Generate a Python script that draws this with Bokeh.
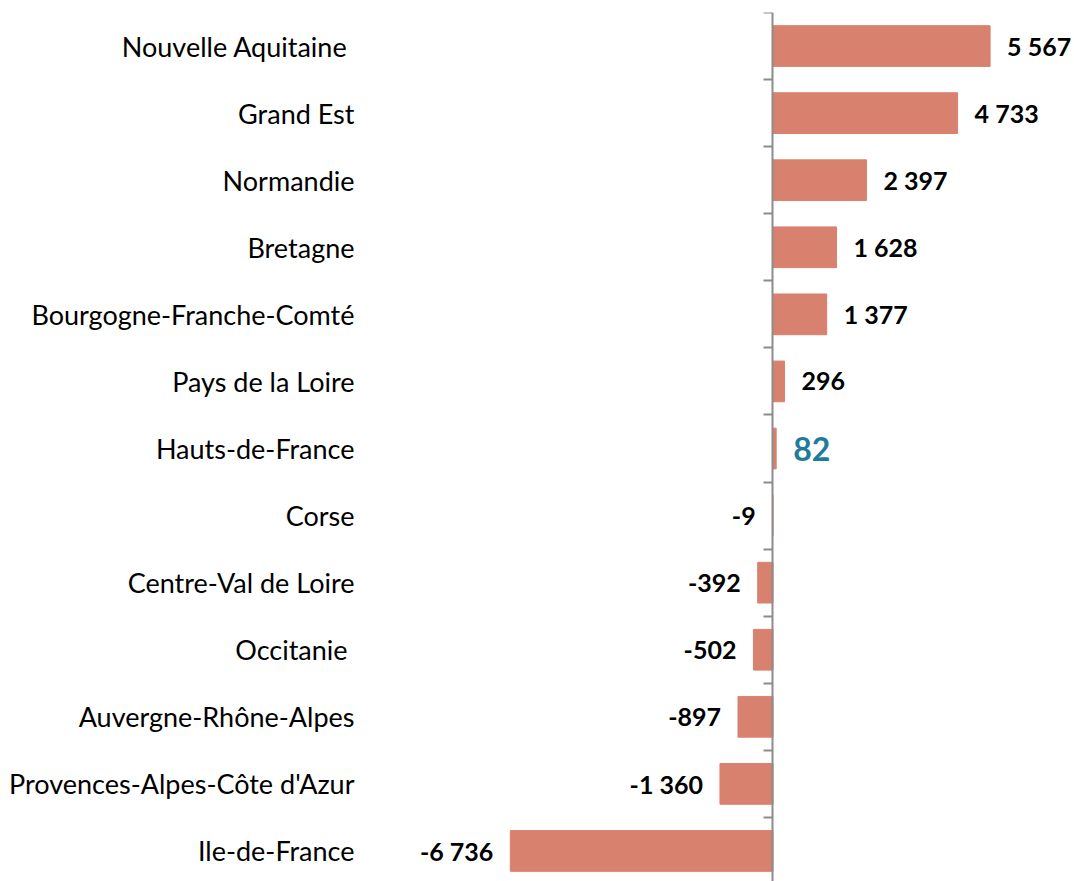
from bokeh.plotting import figure
from bokeh.models import ColumnDataSource, Range1d, LinearAxis, FixedTicker
from bokeh.embed import file_html
from bokeh.resources import INLINE
from bokeh.core.properties import value

regions = [
    "Nouvelle Aquitaine ", "Grand Est", "Normandie", "Bretagne",
    "Bourgogne-Franche-Comté", "Pays de la Loire", "Hauts-de-France", "Corse",
    "Centre-Val de Loire", "Occitanie ", "Auvergne-Rhône-Alpes",
    "Provences-Alpes-Côte d'Azur", "Ile-de-France",
]
values = [5567, 4733, 2397, 1628, 1377, 296, 82, -9, -392, -502, -897, -1360, -6736]
highlight = "Hauts-de-France"

BAR = "#D9816F"
BLUE = "#1F7A9E"
AXIS = "#8C8C8C"
FONT = "Lato"

idx = list(range(len(regions)))
labels = [f"{v:,}".replace(",", " ") for v in values]
src = ColumnDataSource(dict(
    y=idx, v=values, lab=labels,
    col=[BLUE if r == highlight else "#000000" for r in regions],
    size=["32px" if r == highlight else "25px" for r in regions],
    align=["left" if v >= 0 else "right" for v in values],
    xoff=[17 if v >= 0 else -17 for v in values],
))

p = figure(width=1074, height=881, output_backend="svg", toolbar_location=None,
           x_axis_location=None,
           x_range=Range1d(-10423, 7731), y_range=Range1d(12.455, -0.5),
           min_border_left=366, min_border_right=0, min_border_top=12, min_border_bottom=0)
p.outline_line_color = None
p.grid.visible = False
p.background_fill_color = "white"
p.border_fill_color = "white"

p.hbar(y="y", left=0, right="v", height=0.607, color=BAR, source=src)

p.text(x="v", y="y", text="lab", source=src, text_color="col",
       text_font=value(FONT), text_font_style="bold", text_font_size="size",
       text_align="align", text_baseline="middle", x_offset="xoff")

yax = p.yaxis[0]
yax.ticker = FixedTicker(ticks=idx)
yax.major_label_overrides = {i: r for i, r in zip(idx, regions)}
yax.axis_line_color = None
yax.major_tick_line_color = None
yax.minor_tick_line_color = None
yax.major_tick_out = 0
yax.major_label_standoff = 12
yax.major_label_text_font = FONT
yax.major_label_text_font_size = "27px"
yax.major_label_text_color = "#000000"

bounds = [i - 0.5 for i in range(len(regions) + 1)]
zero_axis = LinearAxis(fixed_location=0, ticker=FixedTicker(ticks=bounds),
                       major_label_overrides={b: "" for b in bounds})
zero_axis.axis_line_color = AXIS
zero_axis.axis_line_width = 2
zero_axis.major_tick_line_color = AXIS
zero_axis.major_tick_line_width = 2
zero_axis.major_tick_out = 9
zero_axis.major_tick_in = 0
zero_axis.minor_tick_line_color = None
zero_axis.major_label_text_font_size = "0px"
p.add_layout(zero_axis, "left")

open("out.html", "w").write(file_html(p, INLINE))
